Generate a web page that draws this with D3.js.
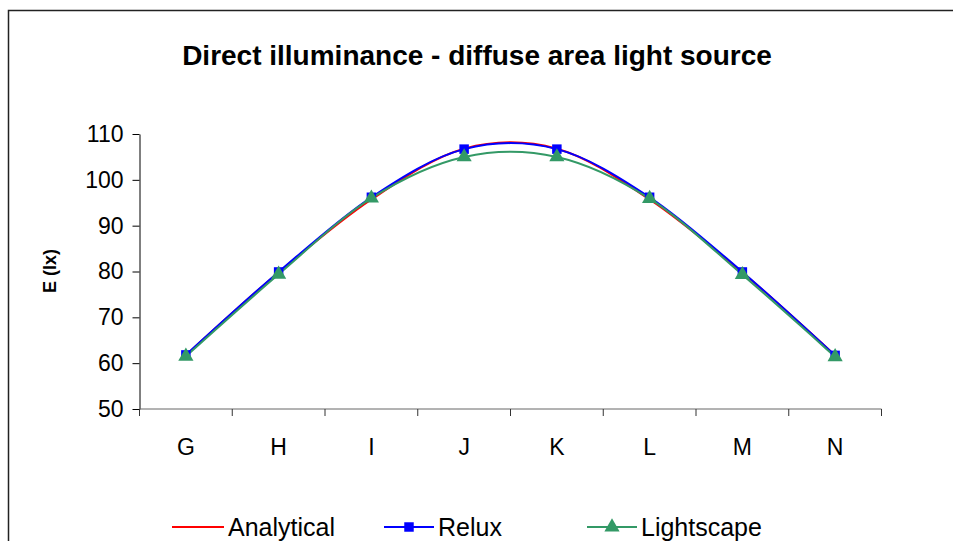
<!DOCTYPE html>
<html>
<head>
<meta charset="utf-8">
<script src="https://cdn.jsdelivr.net/npm/d3@7"></script>
<style>
  body { margin: 0; background: #fff; }
  svg { display: block; font-family: Arial, "Liberation Sans", sans-serif; }
</style>
</head>
<body>
<div id="chart"></div>
<script>
// Direct illuminance chart (Excel style, smoothed lines)
const categories = ["G", "H", "I", "J", "K", "L", "M", "N"];
const analytical = [61.7, 79.8, 95.7, 106.8, 106.8, 95.7, 79.8, 61.7];
const relux      = [61.8, 79.9, 96.2, 106.7, 106.7, 96.2, 79.9, 61.7];
const lightscape = [61.5, 79.4, 96.0, 105.0, 105.0, 95.9, 79.3, 61.4];
const yTicks = [50, 60, 70, 80, 90, 100, 110];

const W = 953, H = 541;
const plot = { left: 139.5, right: 881.5, top: 134, bottom: 409 };

const svg = d3.select("#chart").append("svg")
    .attr("width", W)
    .attr("height", H);

// outer chart border (runs off the right/bottom of the picture)
svg.append("rect")
    .attr("x", 8.5).attr("y", 10.5)
    .attr("width", 1000).attr("height", 600)
    .attr("fill", "none")
    .attr("stroke", "#222")
    .attr("stroke-width", 1.5);

svg.append("text")
    .attr("x", 477).attr("y", 65)
    .attr("text-anchor", "middle")
    .attr("font-size", 28)
    .attr("font-weight", "bold")
    .text("Direct illuminance - diffuse area light source");

const x = d3.scaleBand()
    .domain(categories)
    .range([plot.left, plot.right]);

const y = d3.scaleLinear()
    .domain([50, 110])
    .range([plot.bottom, plot.top]);

// Y axis
const yAxis = svg.append("g")
    .attr("transform", `translate(${plot.left},0)`)
    .call(d3.axisLeft(y).tickValues(yTicks).tickSize(7).tickPadding(9).tickSizeOuter(0));
yAxis.select(".domain").attr("stroke", "#000");
yAxis.selectAll("text").attr("font-size", 23).attr("fill", "#000")
    .attr("font-family", "Arial, 'Liberation Sans', sans-serif");

// X axis, ticks between categories
const xAxis = svg.append("g")
    .attr("transform", `translate(0,${plot.bottom})`);
xAxis.append("line")
    .attr("x1", plot.left).attr("x2", plot.right)
    .attr("stroke", "#666");
xAxis.selectAll("line.tk")
    .data(categories.concat(["end"]))
    .enter().append("line")
    .attr("class", "tk")
    .attr("x1", (d, i) => i < categories.length ? x(d) : plot.right)
    .attr("x2", (d, i) => i < categories.length ? x(d) : plot.right)
    .attr("y1", 0).attr("y2", 7)
    .attr("stroke", "#333");
xAxis.selectAll("text")
    .data(categories)
    .enter().append("text")
    .attr("x", d => x(d) + x.bandwidth() / 2)
    .attr("y", 46)
    .attr("text-anchor", "middle")
    .attr("font-size", 23)
    .text(d => d);

// axis title
svg.append("text")
    .attr("transform", "translate(56,271) rotate(-90)")
    .attr("text-anchor", "middle")
    .attr("font-size", 18)
    .attr("font-weight", "bold")
    .text("E (lx)");

const series = [
    { name: "Analytical", values: analytical, color: "#ff0000", marker: null },
    { name: "Relux", values: relux, color: "#0000ff", marker: "square" },
    { name: "Lightscape", values: lightscape, color: "#339966", marker: "triangle" }
];

const cx = (d, i) => x(categories[i]) + x.bandwidth() / 2;
const line = d3.line()
    .x(cx)
    .y(d => y(d))
    .curve(d3.curveCardinal.tension(0));

const symSquare = d3.symbol(d3.symbolSquare, 90);
const symTri = d3.symbol(d3.symbolTriangle, 100);

series.forEach(s => {
    svg.append("path")
        .attr("d", line(s.values))
        .attr("fill", "none")
        .attr("stroke", s.color)
        .attr("stroke-width", 2);
});

series.forEach(s => {
    if (!s.marker) return;
    svg.selectAll(null)
        .data(s.values)
        .enter().append("path")
        .attr("transform", (d, i) => `translate(${cx(d, i)},${y(d)})`)
        .attr("d", s.marker === "square" ? symSquare() : symTri())
        .attr("fill", s.color);
});

// legend
const legendItems = [
    { x: 172, tx: 228 },
    { x: 384, tx: 438 },
    { x: 587, tx: 641 }
];
const ly = 527;
series.forEach((s, i) => {
    const L = legendItems[i];
    const g = svg.append("g");
    g.append("line")
        .attr("x1", L.x).attr("x2", L.tx - 4)
        .attr("y1", ly).attr("y2", ly)
        .attr("stroke", s.color).attr("stroke-width", 2);
    if (s.marker) {
        g.append("path")
            .attr("transform", `translate(${(L.x + L.tx - 4) / 2},${ly})`)
            .attr("d", s.marker === "square" ? symSquare() : symTri())
            .attr("fill", s.color);
    }
    g.append("text")
        .attr("x", L.tx).attr("y", ly + 9)
        .attr("font-size", 25)
        .text(s.name);
});
</script>
</body>
</html>
